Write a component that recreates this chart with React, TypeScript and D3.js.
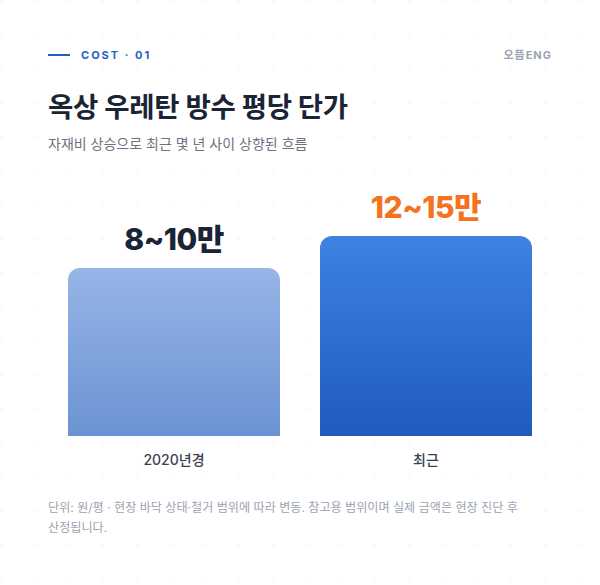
import React from "react";
import * as d3 from "d3";

const categories = ["2020년경", "최근"];
const valueLabels = ["8~10만", "12~15만"];
// relative bar level (recent = 100)
const barLevels = [84, 100];
const labelColors = ["#1b2435", "#f47320"];
const gradients = [
  ["#97b5e7", "#6b93d3"],
  ["#3d83e1", "#1e5bbd"],
];

const W = 600;
const H = 585;
const FONT = "Inter, 'Noto Sans CJK KR', sans-serif";

export default function App() {
  const baseY = 436;
  const x = d3
    .scaleBand<string>()
    .domain(categories)
    .range([68, 532])
    .paddingInner(40 / 252)
    .paddingOuter(0);

  const y = d3.scaleLinear().domain([0, 100]).range([baseY, 236]);

  const r = 12;
  const barPath = (c: string, v: number) => {
    const x0 = x(c) || 0;
    const x1 = x0 + x.bandwidth();
    const top = y(v);
    const p = d3.path();
    p.moveTo(x0, baseY);
    p.lineTo(x0, top + r);
    p.arcTo(x0, top, x0 + r, top, r);
    p.lineTo(x1 - r, top);
    p.arcTo(x1, top, x1, top + r, r);
    p.lineTo(x1, baseY);
    p.closePath();
    return p.toString();
  };

  const dots: [number, number][] = [];
  for (let gx = 1; gx < W; gx += 34) {
    for (let gy = 1; gy < H; gy += 34) dots.push([gx, gy]);
  }

  return (
    <svg
      width={W}
      height={H}
      viewBox={`0 0 ${W} ${H}`}
      style={{ position: "absolute", top: 0, left: 0, fontFamily: FONT }}
    >
      <defs>
        {gradients.map((g, i) => (
          <linearGradient key={i} id={`bar-grad-${i}`} x1="0" y1="0" x2="0" y2="1">
            <stop offset="0%" stopColor={g[0]} />
            <stop offset="100%" stopColor={g[1]} />
          </linearGradient>
        ))}
      </defs>
      <rect width={W} height={H} fill="#ffffff" />
      {dots.map(([dx, dy], i) => (
        <rect key={i} x={dx - 0.75} y={dy - 0.75} width={1.5} height={1.5} fill="#eceef2" />
      ))}

      {/* header */}
      <line x1={48} x2={70} y1={55} y2={55} stroke="#1f5fc7" strokeWidth={2} />
      <text x={81} y={59} fontSize={11} fontWeight={700} letterSpacing={2} fill="#2563c8">
        COST · 01
      </text>
      <text
        x={552}
        y={59}
        textAnchor="end"
        fontSize={11}
        fontWeight={700}
        letterSpacing={1}
        fill="#9ba3b1"
      >
        오뜸ENG
      </text>

      <text x={48} y={117} fontSize={27.5} fontWeight={700} letterSpacing={-0.3} fill="#1b2435">
        옥상 우레탄 방수 평당 단가
      </text>
      <text x={48} y={149} fontSize={14} fill="#6b7280">
        자재비 상승으로 최근 몇 년 사이 상향된 흐름
      </text>

      {/* bars */}
      {categories.map((c, i) => (
        <g key={c}>
          <path d={barPath(c, barLevels[i])} fill={`url(#bar-grad-${i})`} />
          <text
            x={(x(c) || 0) + x.bandwidth() / 2}
            y={y(barLevels[i]) - 18}
            textAnchor="middle"
            fontSize={30}
            fontWeight={800}
            letterSpacing={-0.5}
            fill={labelColors[i]}
          >
            {valueLabels[i]}
          </text>
          <text
            x={(x(c) || 0) + x.bandwidth() / 2}
            y={baseY + 29}
            textAnchor="middle"
            fontSize={14}
            fontWeight={500}
            fill="#3a4252"
          >
            {c}
          </text>
        </g>
      ))}

      {/* footnote */}
      <text x={48} y={512} fontSize={12.1} fill="#9ba3b1">
        단위: 원/평 · 현장 바닥 상태·철거 범위에 따라 변동. 참고용 범위이며 실제 금액은 현장 진단 후
      </text>
      <text x={48} y={532} fontSize={12.1} fill="#9ba3b1">
        산정됩니다.
      </text>
    </svg>
  );
}
